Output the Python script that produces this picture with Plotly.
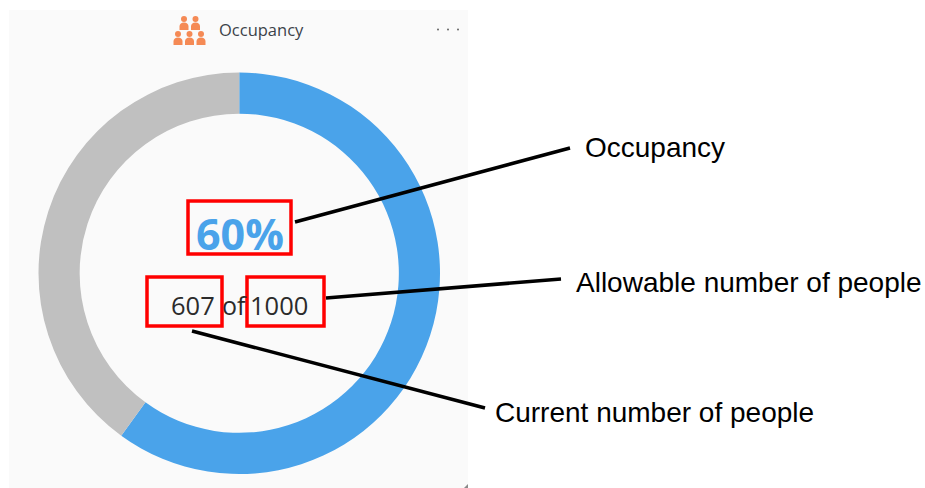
import plotly.graph_objects as go

W, H = 925, 488
segment_labels = ["Occupied", "Free"]
segment_values = [60, 40]
segment_colors = ["#4aa3ea", "#c0c0c0"]
occupancy_text = "<b>60%</b>"
current_people = "607"
allowed_people = "1000"
title_text = "Occupancy"
callouts = ["Occupancy", "Allowable number of people", "Current number of people"]

def px(x): return x / W
def py(y): return 1 - y / H

shapes = []
def rect(x0, y0, x1, y1, fill=None, line=None, lw=0, layer="above", kind="rect"):
    shapes.append(dict(type=kind, xref="paper", yref="paper", x0=px(x0), x1=px(x1), y0=py(y1), y1=py(y0),
                       fillcolor=fill or "rgba(0,0,0,0)", line=dict(color=line or "rgba(0,0,0,0)", width=lw), layer=layer))
def seg(x0, y0, x1, y1):
    shapes.append(dict(type="line", xref="paper", yref="paper", x0=px(x0), x1=px(x1), y0=py(y0), y1=py(y1),
                       line=dict(color="black", width=3.5), layer="above"))

rect(9, 10, 468, 488, fill="#fafafa", layer="below")

# people icon
ORANGE = "#f58a55"
for cx, cy in [(184, 19), (195.5, 19), (178, 34), (189.5, 34), (201, 34)]:
    rect(cx - 3, cy - 3, cx + 3, cy + 3, fill=ORANGE, kind="circle")
    shapes.append(dict(type="path", xref="paper", yref="paper",
                       path=f"M {px(cx-4.5)} {py(cy+11)} L {px(cx-4.5)} {py(cy+7)} Q {px(cx-4)} {py(cy+3.5)} {px(cx)} {py(cy+3.5)} "
                            f"Q {px(cx+4)} {py(cy+3.5)} {px(cx+4.5)} {py(cy+7)} L {px(cx+4.5)} {py(cy+11)} Z",
                       fillcolor=ORANGE, line=dict(width=0), layer="above"))
# dots
for cx in (438, 448, 458):
    rect(cx - 1, 28.5, cx + 1, 30.5, fill="#666666", kind="circle")
# resize grip in the panel corner
shapes.append(dict(type="path", xref="paper", yref="paper",
                   path=f"M {px(468)} {py(484)} L {px(468)} {py(488)} L {px(464)} {py(488)} Z",
                   fillcolor="#8a8a8a", line=dict(width=0), layer="above"))

# red boxes
rect(188, 201, 291, 254, line="#ff0000", lw=3.5)
rect(147, 277, 222, 326, line="#ff0000", lw=3.5)
rect(247, 277, 324, 326, line="#ff0000", lw=3.5)
# leader lines
seg(295, 222, 570, 148)
seg(326, 298, 561, 279)
seg(192, 331, 485, 408)

def text(x, y, s, size, color, family, anchor="left"):
    return dict(x=px(x), y=py(y), xref="paper", yref="paper", text=s, showarrow=False, xanchor=anchor, yanchor="middle",
                font=dict(size=size, color=color, family=family))

SANS = "Open Sans"
ARIAL = "Liberation Sans"
annotations = [
    text(217, 29, title_text, 16.5, "#3c4249", SANS),
    text(239.5, 233, occupancy_text, 43, "#4aa3ea", SANS, "center"),
    text(192.5, 305, current_people, 25.5, "#2b2b2b", SANS, "center"),
    text(234, 305, "of", 25, "#2b2b2b", SANS, "center"),
    text(278.5, 305, allowed_people, 25.5, "#2b2b2b", SANS, "center"),
    text(583, 147.5, callouts[0], 28, "black", ARIAL),
    text(574, 282.5, callouts[1], 28, "black", ARIAL),
    text(493, 412.5, callouts[2], 28, "black", ARIAL),
]

fig = go.Figure(go.Pie(
    labels=segment_labels, values=segment_values, sort=False, direction="clockwise", rotation=0,
    hole=0.795, marker=dict(colors=segment_colors, line=dict(width=0)), textinfo="none", showlegend=False,
    domain=dict(x=[px(38.5), px(440)], y=[py(474), py(72.5)]),
))
fig.update_layout(width=W, height=H, margin=dict(l=0, r=0, t=0, b=0), paper_bgcolor="white",
                  shapes=shapes, annotations=annotations)
fig.write_html("out.html", config=dict(displayModeBar=False), post_script="document.body.style.margin='0';")
